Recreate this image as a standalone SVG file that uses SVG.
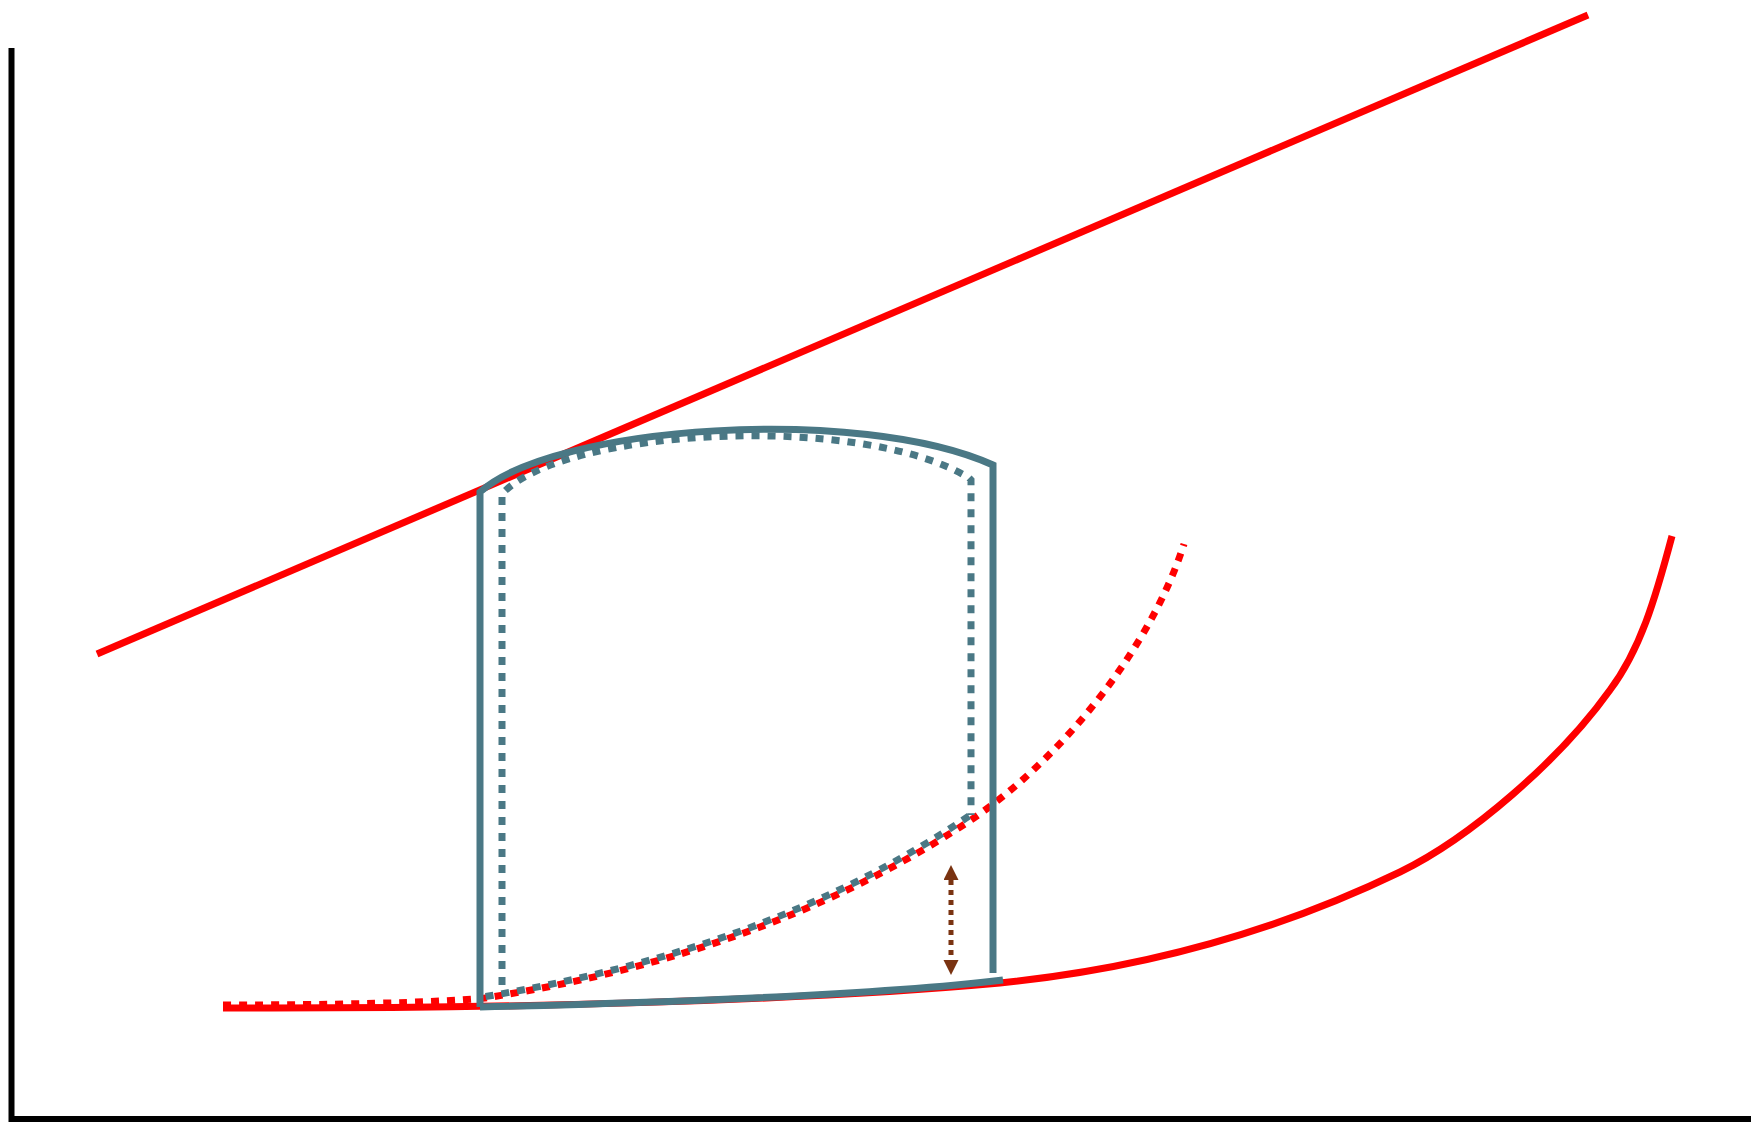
<svg xmlns="http://www.w3.org/2000/svg" width="1751" height="1123" viewBox="0 0 1751 1123">
<style>
.axis{fill:none;stroke:#000;stroke-width:6}
.red{fill:none;stroke:#ff0000;stroke-width:7}
.reddot{fill:none;stroke:#ff0000;stroke-width:7;stroke-dasharray:8 8}
.teal{fill:none;stroke:#4a7885;stroke-width:7}
.tealdot{fill:none;stroke:#4a7885;stroke-width:7;stroke-dasharray:8 8}
.arrow{fill:none;stroke:#7a3311;stroke-width:5;stroke-dasharray:5 5}
</style>
<defs>
<marker id="ah" markerUnits="userSpaceOnUse" markerWidth="16" markerHeight="16" refX="0" refY="7.5" orient="auto-start-reverse">
<path d="M0,0 L15,7.5 L0,15 Z" fill="#7a3311"/>
</marker>
</defs>
<rect width="1751" height="1123" fill="#fff"/>
<g id="axes">
<path class="axis" d="M11.5,48 L11.5,1119 L1751,1119"/>
</g>
<g id="red-line">
<path class="red" d="M97,654 L1588,15"/>
</g>
<g id="red-solid-curve">
<path class="red" d="M223,1008 C500,1009 800,1001 1000,983 C1150,968 1280,930 1400,872 C1470,838 1560,760 1610,690 C1640,650 1655,600 1672,536"/>
</g>
<g id="red-dotted-curve">
<path class="reddot" d="M223,1005 C330,1005 430,1003 485,998 C650,972 820,920 971,820 C1060,760 1150,650 1184,544"/>
</g>
<g id="teal-solid-shape">
<path class="teal" d="M480,1007 L480,492 C555,425 860,405 993,465 L993,973"/>
<path class="teal" d="M480,1007 C650,1003 880,995 1003,980"/>
</g>
<g id="teal-dotted-shape">
<path class="tealdot" d="M502,985 L502,494 C562,428 862,412 969,478 L971,480 L971,815"/>
<path class="tealdot" d="M969,816 C820,917 650,969 483,997"/>
</g>
<g id="connectors">
<path class="arrow" d="M951,880 L951,960" marker-start="url(#ah)" marker-end="url(#ah)"/>
</g>
</svg>
